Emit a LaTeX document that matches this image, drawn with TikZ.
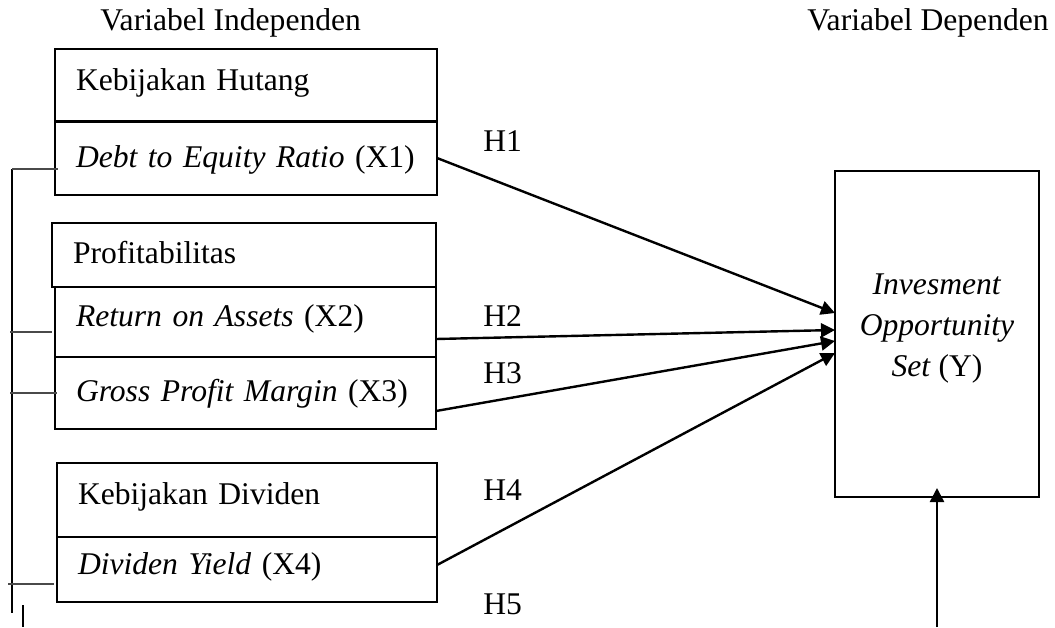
\documentclass[tikz,border=0pt]{standalone}
\usepackage{fontspec}
\setmainfont{Liberation Serif}
\usetikzlibrary{arrows.meta}
\definecolor{cLine}{HTML}{000000}
\definecolor{cTick}{HTML}{4a4a4a}
\tikzset{
  >={Triangle[length=7pt,width=7pt]},
  vfont/.style={font=\fontsize{15.8}{20.5}\selectfont},
  vbox/.style={draw=cLine,line width=1.4pt,vfont,align=left,inner xsep=10.5pt,
               inner ysep=0pt,outer sep=0pt,text height=0.7em,text depth=0.25em},
  hlab/.style={vfont,inner sep=0pt},
  sar/.style={->,line width=1.2pt,cLine},
  sbr/.style={line width=0.8pt,cTick},
}
\begin{document}
\begin{tikzpicture}[x=0.5pt,y=-0.5pt]
  \useasboundingbox (0,0) rectangle (1055,627);
  % headers
  \node[hlab,anchor=base west] (tind) at (100,30) {Variabel Independen};
  \node[hlab,anchor=base west] (tdep) at (807,30) {Variabel Dependen};
  % independent variables
  \node[vbox,text width=170pt,minimum height=36.5pt] (hutang) at (246,85.5) {Kebijakan Hutang};
  \node[vbox,text width=170pt,minimum height=37pt,text height=1.2em] (der) at (246,158) {\textit{Debt to Equity Ratio} (X1)};
  \node[vbox,text width=171pt,minimum height=32pt,text height=1.1em] (profit) at (244,255) {Profitabilitas};
  \node[vbox,text width=169.5pt,minimum height=35pt] (roa) at (245.5,322) {\textit{Return on Assets} (X2)};
  \node[vbox,text width=169.5pt,minimum height=36pt,text height=1.05em] (gpm) at (245.5,393) {\textit{Gross Profit Margin} (X3)};
  \node[vbox,text width=169pt,minimum height=37pt] (dividen) at (247,500) {Kebijakan Dividen};
  \node[vbox,text width=169pt,minimum height=32.5pt] (dy) at (247,569.5) {\textit{Dividen Yield} (X4)};
  % dependent variable
  \node[vbox,minimum width=102pt,minimum height=163pt,inner xsep=0pt] (ios) at (937,334) {};
  \node[hlab,align=center] (iostxt) at (937,329) {\textit{Invesment}\\\textit{Opportunity}\\\textit{Set} (Y)};
  % hypotheses
  \draw[sar] (der.east) -- ([yshift=10.5pt]ios.west);
  \draw[sar] ([yshift=-8.5pt]roa.east) -- ([yshift=2pt]ios.west);
  \draw[sar] ([yshift=-9pt]gpm.east) -- ([yshift=-3.5pt]ios.west);
  \draw[sar] ([yshift=2.25pt]dy.east) -- ([yshift=-9.5pt]ios.west);
  \coordinate (bot) at (937,627);
  \draw[sar] (bot) -- ([yshift=4.5pt]ios.south);
  \node[hlab,anchor=base west] (h1) at (483,151) {H1};
  \node[hlab,anchor=base west] (h2) at (483,326) {H2};
  \node[hlab,anchor=base west] (h3) at (483,383) {H3};
  \node[hlab,anchor=base west] (h4) at (483,500) {H4};
  \node[hlab,anchor=base west] (h5) at (483,614) {H5};
  % simultaneous bracket
  \draw[sbr,cLine] (12,169) -- (12,613);
  \draw[sbr] (12,169) -- (58,169);
  \draw[sbr] (10,332) -- (52,332);
  \draw[sbr] (10,393) -- (57,393);
  \draw[sbr] (8,584) -- (54,584);
  \draw[sbr,cLine] (23,605) -- (23,627);
\end{tikzpicture}
\end{document}
